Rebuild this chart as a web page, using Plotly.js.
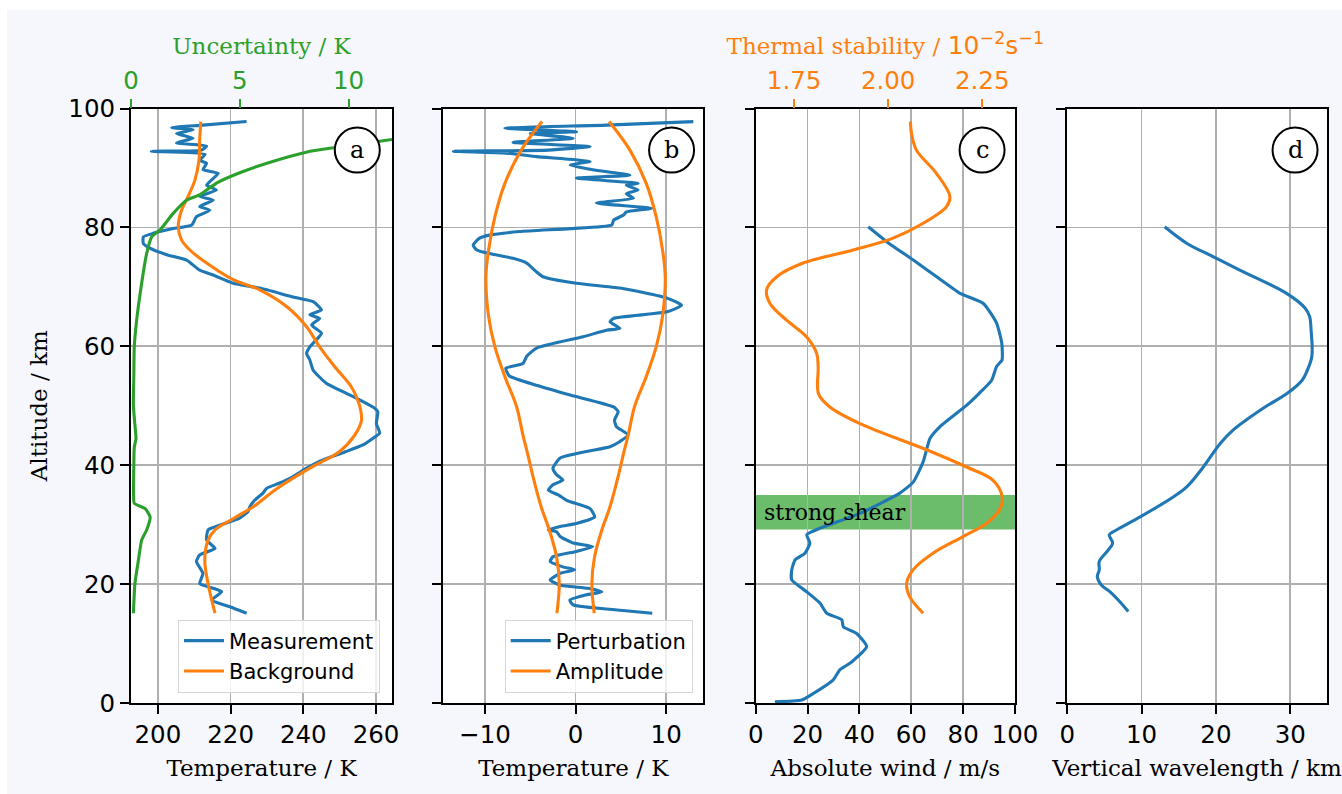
<!DOCTYPE html>
<html>
<head>
<meta charset="utf-8">
<script src="https://cdn.plot.ly/plotly-3.0.1.min.js"></script>
<style>
  html, body { margin: 0; padding: 0; background: #ffffff; }
  #chart { width: 1342px; height: 794px; }
</style>
</head>
<body>
<div id="chart"></div>
<script>
// ---------------- DATA ----------------
// Panel a: temperature measurement
const measAlt = [15.1, 16.2, 17.3, 18.7, 19.3, 20.1, 21.8, 23.8, 24.9, 26.0, 27.4, 29.1, 29.9, 31.1, 32.2, 33.0, 34.1, 35.3, 36.1, 37.0, 38.1, 39.5, 40.9, 42.3, 43.4, 44.5, 45.4, 47.0, 49.0, 49.6, 51.0, 52.1, 53.8, 56.0, 57.7, 58.8, 59.9, 62.2, 63.6, 64.7, 65.3, 66.1, 67.5, 68.3, 69.8, 70.6, 72.0, 72.8, 74.5, 75.4, 76.5, 77.3, 78.4, 79.0, 79.8, 80.4, 81.8, 82.9, 83.5, 84.6, 85.2, 86.3, 87.1, 89.1, 89.7, 90.8, 91.3, 92.3, 92.8, 93.0, 93.7, 94.2, 95.0, 95.8, 96.4, 96.8, 97.2, 97.8];
const measT = [224.4, 219.8, 214.8, 217.5, 215.2, 211.5, 212.4, 210.6, 211.5, 215.7, 213.4, 213.8, 217.0, 222.5, 224.8, 225.3, 226.6, 228.9, 229.9, 233.5, 237.2, 240.9, 245.4, 251.8, 256.4, 259.1, 261.0, 260.1, 260.5, 259.6, 255.5, 251.8, 246.3, 242.7, 241.8, 240.9, 241.8, 245.0, 242.3, 244.5, 241.8, 245.0, 242.7, 237.2, 228.0, 220.7, 215.2, 211.5, 207.9, 202.4, 197.8, 196.0, 196.0, 198.7, 204.2, 209.3, 210.6, 214.3, 211.5, 215.2, 211.5, 216.1, 213.4, 216.6, 212.4, 213.4, 211.5, 213.0, 198.2, 212.0, 213.4, 205.1, 209.7, 205.1, 209.7, 203.8, 212.4, 224.4];
// Panel a: background temperature
const bgAlt = [15.1, 20.1, 24.0, 27.4, 29.1, 31.0, 33.0, 36.0, 39.5, 42.3, 45.0, 47.5, 50.0, 51.5, 53.2, 56.6, 59.9, 63.3, 66.7, 69.5, 71.2, 74.0, 76.2, 77.9, 80.1, 82.9, 85.2, 88.0, 91.3, 94.7, 97.8];
const bgT = [215.7, 213.8, 212.9, 213.8, 215.7, 220.7, 226.2, 232.6, 241.8, 250.0, 254.1, 256.0, 255.5, 254.6, 253.2, 248.6, 244.5, 240.9, 235.4, 228.0, 220.7, 213.4, 208.8, 206.5, 205.6, 206.5, 208.3, 210.2, 211.3, 211.5, 211.8];
// Panel a: uncertainty (top axis)
const uncAlt = [15.1, 20.1, 24.0, 27.4, 29.1, 31.3, 32.7, 33.6, 35.0, 40.0, 43.0, 44.5, 46.0, 50.0, 55.0, 59.9, 64.4, 70.6, 75.6, 78.4, 79.6, 82.4, 84.6, 85.5, 87.5, 89.2, 90.8, 92.7, 93.4, 94.8];
const uncK = [0.11, 0.18, 0.34, 0.49, 0.72, 0.88, 0.65, 0.15, 0.12, 0.13, 0.15, 0.23, 0.20, 0.11, 0.13, 0.15, 0.26, 0.49, 0.72, 0.95, 1.34, 1.95, 2.57, 3.18, 3.95, 5.0, 6.25, 8.1, 9.3, 12.0];

// Panel b: perturbation and amplitude
const pertAlt = [15.1, 15.6, 16.5, 17.3, 18.2, 18.7, 19.3, 19.8, 20.7, 21.8, 22.4, 22.9, 23.8, 24.6, 25.5, 26.3, 26.9, 28.0, 28.8, 29.1, 29.7, 30.2, 31.3, 32.7, 34.1, 35.0, 35.8, 36.7, 37.5, 38.4, 39.5, 41.2, 42.3, 43.1, 44.0, 45.1, 46.5, 47.6, 49.0, 49.8, 51.8, 53.4, 55.0, 56.3, 57.1, 58.3, 59.7, 61.6, 62.7, 63.0, 64.1, 64.7, 65.8, 66.9, 68.1, 69.8, 70.6, 71.7, 72.5, 74.0, 74.8, 75.6, 76.2, 77.0, 78.2, 78.7, 79.3, 79.8, 80.4, 81.2, 82.1, 82.6, 83.2, 84.1, 84.9, 85.7, 86.3, 87.1, 87.4, 88.3, 88.8, 89.7, 90.5, 91.1, 91.9, 92.5, 92.8, 93.0, 93.6, 94.3, 95.0, 95.8, 96.1, 96.7, 97.2, 97.8];
const pertK = [8.47, 4.9, -0.26, -0.63, 1.2, 2.9, 1.4, -1.7, -2.8, -1.7, -0.08, -1.4, -2.8, -2.5, 0.1, 1.9, -0.26, -1.7, -2.1, -3.0, -1.7, 0.1, 2.1, 1.6, -1.0, -1.9, -3.0, -2.5, -1.4, -2.1, -2.5, -1.7, 1.2, 3.8, 4.9, 5.8, 4.5, 4.3, 4.7, 4.2, -0.6, -4.2, -7.3, -7.7, -5.8, -5.4, -4.3, 0.84, 3.4, 4.9, 3.8, 4.2, 10.1, 11.7, 10.1, 4.9, 0.1, -3.6, -4.3, -5.4, -6.9, -9.5, -10.9, -11.3, -10.6, -9.5, -6.2, -0.6, 4.0, 4.2, 5.3, 5.6, 8.4, 2.3, 6.4, 5.6, 6.9, 5.6, 6.9, 0.1, 6.0, 1.9, -0.6, 1.6, -4.3, -7.6, -13.5, -3.0, 1.6, -6.9, -0.26, -5.0, 0.1, -7.8, 3.4, 13.0];
const ampAlt = [15.1, 20.1, 24.6, 29.1, 33.0, 38.1, 42.0, 45.0, 49.8, 54.9, 59.9, 65.0, 71.7, 76.2, 81.8, 87.4, 93.0, 97.8];
const ampK = [2.06, 1.8, 2.1, 2.9, 3.8, 4.7, 5.3, 5.8, 6.5, 7.8, 8.9, 9.6, 9.9, 9.6, 8.9, 7.8, 6.0, 3.7];

// Panel c: absolute wind and thermal stability
const windAlt = [0.2, 0.5, 1.6, 3.9, 5.6, 6.9, 9.5, 11.7, 12.8, 14.0, 15.1, 16.8, 18.7, 20.7, 22.4, 24.1, 25.2, 26.9, 28.3, 29.4, 31.9, 35.3, 37.2, 40.6, 44.5, 46.5, 50.1, 52.0, 54.3, 56.6, 57.7, 60.5, 63.9, 67.2, 68.9, 71.7, 74.5, 77.6, 80.1];
const windMs = [7.4, 17.7, 22.2, 29.9, 32.5, 37.0, 42.8, 38.9, 33.8, 33.2, 27.4, 24.8, 19.7, 13.9, 13.9, 15.2, 19.0, 20.9, 19.7, 24.8, 40.2, 55.6, 60.8, 64.6, 67.2, 71.1, 81.4, 86.0, 91.0, 92.9, 95.0, 94.9, 92.9, 87.8, 78.8, 69.8, 60.8, 50.5, 43.4];
const stabAlt = [15.1, 17.9, 20.1, 22.4, 25.2, 28.0, 30.2, 32.5, 34.7, 37.5, 39.7, 42.6, 47.0, 49.8, 52.0, 56.6, 58.8, 61.6, 64.4, 67.2, 69.5, 71.7, 74.0, 76.2, 78.2, 80.7, 83.5, 85.2, 89.1, 93.0, 95.8, 97.8];
const stabVal = [2.093, 2.057, 2.049, 2.066, 2.119, 2.199, 2.261, 2.296, 2.303, 2.278, 2.208, 2.102, 1.925, 1.845, 1.815, 1.814, 1.810, 1.783, 1.730, 1.686, 1.677, 1.704, 1.774, 1.907, 2.013, 2.093, 2.155, 2.164, 2.128, 2.075, 2.062, 2.059];
const shearBand = [29.2, 35.0];

// Panel d: vertical wavelength
const wlAlt = [15.4, 17.0, 18.7, 19.8, 21.2, 22.4, 23.8, 25.7, 26.9, 28.3, 29.1, 31.3, 34.7, 36.4, 39.7, 43.7, 45.9, 49.7, 52.1, 54.3, 55.7, 58.3, 62.7, 65.0, 66.4, 68.9, 72.8, 75.1, 77.3, 80.1];
const wlKm = [8.2, 7.1, 5.75, 4.6, 4.04, 4.3, 4.3, 5.5, 6.1, 5.65, 6.6, 9.8, 14.3, 16.1, 18.3, 20.6, 22.3, 26.5, 29.6, 31.6, 32.2, 32.9, 32.8, 32.6, 32.0, 29.5, 23.2, 19.6, 16.1, 13.1];

// Tick labels
const altTicks = [0, 20, 40, 60, 80, 100];
const tempTicks = [200, 220, 240, 260];
const uncTicks = [0, 5, 10];
const pertTicks = [-10, 0, 10];
const pertTickText = ['\u221210', '0', '10'];
const windTicks = [0, 20, 40, 60, 80, 100];
const stabTicks = [1.75, 2.00, 2.25];
const stabTickText = ['1.75', '2.00', '2.25'];
const wlTicks = [0, 10, 20, 30];
const panelLetters = ['a', 'b', 'c', 'd'];

// ---------------- STYLE ----------------
const BLUE = '#1f77b4', ORANGE = '#ff7f0e', GREEN = '#2ca02c';
const W = 1342, H = 794;
const fx = p => p / W;
const fy = p => 1 - p / H;
const yDom = [fy(703), fy(108.5)];
const LW = 3.1;
const SANS = 'DejaVu Sans';
const SERIF = 'DejaVu Serif';
const TICK = 24.5;

function baseAxis(extra) {
  return Object.assign({
    showline: true, linecolor: '#000', linewidth: 2, mirror: true,
    ticks: 'outside', ticklen: 9, tickwidth: 2, tickcolor: '#000',
    showgrid: true, gridcolor: '#b0b0b0', gridwidth: 1.6,
    zeroline: false, tickfont: {family: SANS, size: TICK, color: '#000'},
    automargin: false, fixedrange: true
  }, extra);
}
function titleObj(text, color, standoff) {
  return {text: text, font: {family: SERIF, size: 23, color: color || '#000'}, standoff: standoff};
}
function blueLine() { return {color: BLUE, width: LW, shape: 'spline', smoothing: 0.5}; }
function orangeLine() { return {color: ORANGE, width: LW, shape: 'spline', smoothing: 1}; }

const traces = [
  {x: measT, y: measAlt, xaxis: 'x', yaxis: 'y', mode: 'lines', name: 'Measurement',
   line: blueLine(), legend: 'legend'},
  {x: bgT, y: bgAlt, xaxis: 'x', yaxis: 'y', mode: 'lines', name: 'Background',
   line: orangeLine(), legend: 'legend'},
  {x: uncK, y: uncAlt, xaxis: 'x2', yaxis: 'y', mode: 'lines', name: 'Uncertainty',
   line: {color: GREEN, width: LW, shape: 'spline', smoothing: 0.5}, showlegend: false},

  {x: pertK, y: pertAlt, xaxis: 'x3', yaxis: 'y2', mode: 'lines', name: 'Perturbation',
   line: blueLine(), legend: 'legend2'},
  {x: ampK, y: ampAlt, xaxis: 'x3', yaxis: 'y2', mode: 'lines', name: 'Amplitude',
   line: orangeLine(), legend: 'legend2'},
  {x: ampK.map(v => -v), y: ampAlt, xaxis: 'x3', yaxis: 'y2', mode: 'lines', name: 'Amplitude',
   line: orangeLine(), showlegend: false},

  {x: windMs, y: windAlt, xaxis: 'x4', yaxis: 'y3', mode: 'lines', name: 'Absolute wind',
   line: blueLine(), showlegend: false},
  {x: stabVal, y: stabAlt, xaxis: 'x5', yaxis: 'y3', mode: 'lines', name: 'Thermal stability',
   line: orangeLine(), showlegend: false},

  {x: wlKm, y: wlAlt, xaxis: 'x6', yaxis: 'y4', mode: 'lines', name: 'Vertical wavelength',
   line: {color: BLUE, width: LW, shape: 'spline', smoothing: 1}, showlegend: false}
];

const yCommon = {range: [0, 100], tickvals: altTicks, domain: yDom};

const layout = {
  width: W, height: H,
  margin: {l: 0, r: 0, t: 0, b: 0},
  paper_bgcolor: '#f6f7fc',
  plot_bgcolor: '#ffffff',
  showlegend: true,
  hovermode: false,
  xaxis: baseAxis({domain: [fx(131), fx(392)], range: [192.6, 264.4], tickvals: tempTicks,
    anchor: 'y', title: titleObj('Temperature / K', '#000', 11)}),
  xaxis2: baseAxis({overlaying: 'x', side: 'top', anchor: 'y', range: [0, 12], tickvals: uncTicks,
    showgrid: false, showline: false, mirror: false, tickcolor: GREEN,
    tickfont: {family: SANS, size: TICK, color: GREEN},
    title: titleObj('Uncertainty / K', GREEN, 4)}),
  xaxis3: baseAxis({domain: [fx(443.3), fx(703.3)], range: [-14.6, 14.1], tickvals: pertTicks,
    ticktext: pertTickText,
    anchor: 'y2', title: titleObj('Temperature / K', '#000', 11)}),
  xaxis4: baseAxis({domain: [fx(755.7), fx(1015)], range: [0, 100], tickvals: windTicks,
    anchor: 'y3', title: titleObj('Absolute wind / m/s', '#000', 11)}),
  xaxis5: baseAxis({overlaying: 'x4', side: 'top', anchor: 'y3', range: [1.648, 2.337],
    tickvals: stabTicks, ticktext: stabTickText,
    showgrid: false, showline: false, mirror: false, tickcolor: ORANGE,
    tickfont: {family: SANS, size: TICK, color: ORANGE},
    title: titleObj('Thermal stability / <span style="font-family:DejaVu Sans;font-size:25px">10<sup>\u22122</sup>s<sup>\u22121</sup></span>', ORANGE, 4)}),
  xaxis6: baseAxis({domain: [fx(1067.3), fx(1326.7)], range: [0, 34.9], tickvals: wlTicks,
    anchor: 'y4', title: titleObj('Vertical wavelength / km', '#000', 11)}),
  yaxis: baseAxis(Object.assign({}, yCommon, {anchor: 'x', title: titleObj('Altitude / km', '#000', 14)})),
  yaxis2: baseAxis(Object.assign({}, yCommon, {anchor: 'x3', showticklabels: false})),
  yaxis3: baseAxis(Object.assign({}, yCommon, {anchor: 'x4', showticklabels: false})),
  yaxis4: baseAxis(Object.assign({}, yCommon, {anchor: 'x6', showticklabels: false})),
  legend: {x: fx(380), xanchor: 'right', y: fy(692.5), yanchor: 'bottom',
    bgcolor: 'rgba(255,255,255,0.8)', bordercolor: '#d6d6d6', borderwidth: 1,
    font: {family: SANS, size: 21, color: '#000'}, itemwidth: 40, tracegroupgap: 0},
  legend2: {x: fx(692.7), xanchor: 'right', y: fy(692.5), yanchor: 'bottom',
    bgcolor: 'rgba(255,255,255,0.8)', bordercolor: '#d6d6d6', borderwidth: 1,
    font: {family: SANS, size: 21, color: '#000'}, itemwidth: 40, tracegroupgap: 0},
  shapes: [],
  annotations: []
};

// white frame strips outside the light background (top and left)
layout.shapes.push({type: 'rect', xref: 'paper', yref: 'paper', x0: 0, x1: fx(7), y0: 0, y1: 1,
  fillcolor: '#ffffff', line: {width: 0}, layer: 'below'});
layout.shapes.push({type: 'rect', xref: 'paper', yref: 'paper', x0: 0, x1: 1, y0: fy(10), y1: 1,
  fillcolor: '#ffffff', line: {width: 0}, layer: 'below'});

// strong shear band (panel c)
layout.shapes.push({type: 'rect', xref: 'x4 domain', yref: 'y3', x0: 0, x1: 1,
  y0: shearBand[0], y1: shearBand[1], fillcolor: 'rgba(44,160,44,0.7)', line: {width: 0}, layer: 'below'});
layout.annotations.push({xref: 'x4', yref: 'y3', x: 2.5, y: (shearBand[0] + shearBand[1]) / 2,
  text: 'strong shear', showarrow: false, xanchor: 'left', yanchor: 'middle',
  font: {family: SERIF, size: 22, color: '#000'}});

// panel letters in circles
const letterAxes = [['x', 'y', 0.867], ['x3', 'y2', 0.878], ['x4', 'y3', 0.873], ['x6', 'y4', 0.878]];
letterAxes.forEach((ax, i) => {
  layout.shapes.push({type: 'circle', xref: ax[0] + ' domain', yref: ax[1] + ' domain',
    xsizemode: 'pixel', ysizemode: 'pixel', xanchor: ax[2], yanchor: 0.930,
    x0: -22.5, x1: 22.5, y0: -22.5, y1: 22.5,
    fillcolor: '#ffffff', line: {color: '#000', width: 2}, layer: 'above'});
  layout.annotations.push({xref: ax[0] + ' domain', yref: ax[1] + ' domain', x: ax[2], y: 0.930,
    text: panelLetters[i], showarrow: false, xanchor: 'center', yanchor: 'middle',
    font: {family: SERIF, size: 24, color: '#000'}});
});

Plotly.newPlot('chart', traces, layout, {staticPlot: true, displayModeBar: false});
</script>
</body>
</html>
